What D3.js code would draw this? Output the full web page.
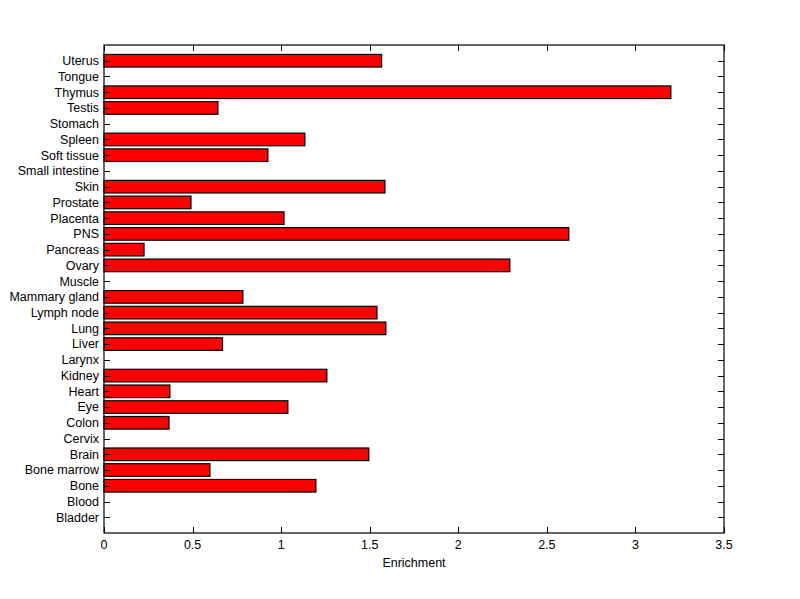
<!DOCTYPE html>
<html>
<head>
<meta charset="utf-8">
<script src="https://cdn.jsdelivr.net/npm/d3@7/dist/d3.min.js"></script>
<style>
  html, body { margin: 0; padding: 0; background: #ffffff; }
  svg { display: block; }
  text { font-family: "Liberation Sans", Arial, Helvetica, sans-serif; font-size: 12.5px; fill: #000; }
</style>
</head>
<body>
<script>
// Categories from bottom (1) to top (30)
const categories = ["Bladder","Blood","Bone","Bone marrow","Brain","Cervix","Colon","Eye","Heart","Kidney",
  "Larynx","Liver","Lung","Lymph node","Mammary gland","Muscle","Ovary","Pancreas","PNS","Placenta",
  "Prostate","Skin","Small intestine","Soft tissue","Spleen","Stomach","Testis","Thymus","Tongue","Uterus"];
const enrichment = [0, 0, 1.196, 0.598, 1.495, 0, 0.367, 1.038, 0.372, 1.258,
  0, 0.669, 1.591, 1.541, 0.784, 0, 2.291, 0.226, 2.624, 1.016,
  0.491, 1.586, 0, 0.925, 1.134, 0, 0.643, 3.200, 0, 1.567];
const xTicks = [0, 0.5, 1, 1.5, 2, 2.5, 3, 3.5];
const xLabel = "Enrichment";

const W = 800, H = 599;
const L = 104, R = 724, T = 45, B = 533;

const svg = d3.select("body").append("svg").attr("width", W).attr("height", H);

const x = d3.scaleLinear().domain([0, 3.5]).range([L, R]);
// MATLAB-like: positions 1..n, limits [0, n+1]
const y = d3.scaleLinear().domain([0, categories.length + 1]).range([B, T]);
const barH = Math.abs(y(0.8) - y(0));

// Bars
svg.append("g").selectAll("rect").data(categories).join("rect")
  .attr("x", x(0))
  .attr("y", (d, i) => y(i + 1) - barH / 2)
  .attr("width", (d, i) => x(enrichment[i]) - x(0))
  .attr("height", barH)
  .attr("fill", "#ff0000")
  .attr("stroke", "#000")
  .attr("stroke-width", 1.2);

// Axis box
svg.append("rect").attr("x", L).attr("y", T).attr("width", R - L).attr("height", B - T)
  .attr("fill", "none").attr("stroke", "#000").attr("stroke-width", 1.2);

const tickLen = 6;
// Y ticks (left and right, inward)
const yTickG = svg.append("g");
categories.forEach((c, i) => {
  const yy = Math.round(y(i + 1)) + 0.5;
  yTickG.append("line").attr("x1", L).attr("x2", L + tickLen).attr("y1", yy).attr("y2", yy).attr("stroke", "#000");
  yTickG.append("line").attr("x1", R - tickLen).attr("x2", R).attr("y1", yy).attr("y2", yy).attr("stroke", "#000");
  yTickG.append("text").attr("x", L - 5).attr("y", y(i + 1)).attr("dy", "0.35em")
    .attr("text-anchor", "end").text(c);
});

// X ticks (bottom and top, inward)
const xTickG = svg.append("g");
xTicks.forEach(t => {
  const xx = Math.round(x(t)) + 0.5;
  xTickG.append("line").attr("x1", xx).attr("x2", xx).attr("y1", B).attr("y2", B - tickLen).attr("stroke", "#000");
  xTickG.append("line").attr("x1", xx).attr("x2", xx).attr("y1", T).attr("y2", T + tickLen).attr("stroke", "#000");
  xTickG.append("text").attr("x", x(t)).attr("y", B + 12).attr("dy", "0.35em")
    .attr("text-anchor", "middle").text(String(t));
});

svg.append("text").attr("x", (L + R) / 2).attr("y", 563).attr("dy", "0.35em")
  .attr("text-anchor", "middle").text(xLabel);
</script>
</body>
</html>
